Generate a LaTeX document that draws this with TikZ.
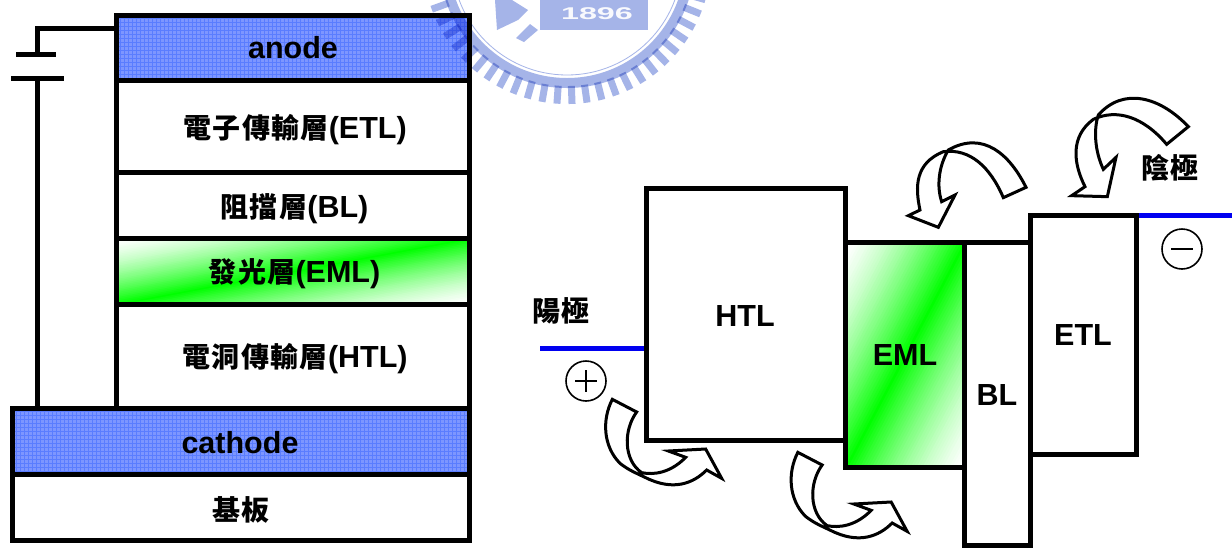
\documentclass[tikz,border=0pt]{standalone}
\usepackage{fontspec}
\setmainfont{Liberation Sans}
\newfontfamily\cjk[LetterSpace=5]{Noto Sans CJK TC}
\definecolor{wm}{RGB}{165,180,232}
\definecolor{anodeblue}{RGB}{125,150,255}
\definecolor{gridblue}{RGB}{90,125,255}
\definecolor{mygreen}{RGB}{0,255,0}
\definecolor{wire}{RGB}{0,0,240}
\newcommand{\lbl}[2]{{\fontsize{28}{30}\selectfont\cjk #1}#2}
\newcommand{\curlarrow}{
  (247,178) .. controls (215,240) and (220,320) .. (270,370)
  .. controls (295,390) and (320,400) .. (345,412)
  .. controls (430,455) and (490,430) .. (530,390)
  -- (575,415) -- (527,327) -- (415,333) -- (467,352)
  .. controls (420,400) and (370,405) .. (335,398)
  .. controls (280,360) and (280,270) .. (320,216) -- cycle}
% diagonal white-green-white fade in the box from (#1,#2), #3 wide, #4 high
\newcommand{\greenfade}[4]{
  \begin{scope}[shift={(#1,#2)},x=#3pt,y=-#4pt]
    \clip (0,0) rectangle (1,1);
    \foreach \i in {0,...,79}{
      \pgfmathsetmacro{\tval}{\i/40}
      \pgfmathsetmacro{\dist}{\i<=40 ? \i/40 : (80-\i)/40}
      \pgfmathtruncatemacro{\pct}{100*\dist^1.4}
      \fill[mygreen!\pct!white] (\tval,0) -- (3,0) -- (3,3) -- (0,3) -- (0,\tval) -- cycle;
    }
  \end{scope}
}
\tikzset{
  x=1pt,y=-1pt,
  every node/.style={font=\fontsize{30.5}{32}\selectfont\bfseries,text=black,inner sep=0pt},
  layer/.style={draw=black,line width=5pt,minimum width=353.5pt,inner sep=0pt},
  cellbox/.style={draw=black,line width=5pt,inner sep=0pt},
  wireline/.style={draw=black,line width=5pt},
  bluewire/.style={draw=wire,line width=5pt},
  curl/.style={draw=black,line width=3pt,fill=white,line join=miter,miter limit=8,scale=1/3},
  polarity/.style={draw=black,line width=1.6pt,circle,minimum size=40pt,fill=white},
  sign/.style={draw=black,line width=1.6pt},
  tag/.style={anchor=center},
  gridline/.style={draw=gridblue,line width=.7pt}
}
\newcommand{\watermark}{
  \begin{scope}
  \clip (0,0) rectangle (1232,547);
  \draw[wm,line width=10pt] (567,-40) circle [radius=123];
  \draw[wm,line width=.8pt] (567,-40) circle [radius=115];
  \foreach \a in {4,10,...,178}{
    \draw[wm,line width=7pt] ($(567,-40)+(\a:126 and 126)$) -- ($(567,-40)+(\a:144 and 144)$);
  }
  \fill[wm] (540,0) rectangle (648,30);
  \fill[wm] (495,0) -- (512,0) -- (528,10) -- (518,20) -- (497,30) -- cycle;
  \fill[wm] (516,38) -- (530,24) -- (538,30) -- (524,42) -- cycle;
  \end{scope}
}
\usetikzlibrary{calc}
\begin{document}
\begin{tikzpicture}
\useasboundingbox (0,0) rectangle (1232,547);
\fill[white] (0,0) rectangle (1232,547);

% left stack
\fill[anodeblue] (116,15) rectangle (470,81);
\foreach \gx in {120,124,...,468} {\draw[gridline] (\gx,15) -- (\gx,81);}
\foreach \gy in {18,22,...,80} {\draw[gridline] (116,\gy) -- (470,\gy);}
\fill[anodeblue] (12,408) rectangle (470,474);
\foreach \gx in {16,20,...,468} {\draw[gridline] (\gx,408) -- (\gx,474);}
\foreach \gy in {411,415,...,473} {\draw[gridline] (12,\gy) -- (470,\gy);}
\greenfade{116}{238}{353.5}{66}
\node[layer,minimum height=65pt] (anode) at (292.75,48) {};
\node[layer,minimum height=92pt] (etl) at (292.75,126.5) {};
\node[layer,minimum height=65.5pt] (bl) at (292.75,205.25) {};
\node[layer,minimum height=66pt] (eml) at (292.75,271) {};
\node[layer,minimum height=104pt] (htl) at (292.75,356) {};
\node[layer,minimum width=457pt,minimum height=66pt] (cathode) at (241,441) {};
\node[layer,minimum width=457pt,minimum height=66pt] (base) at (241,507) {};

\node[tag] (t1) at (293,48) {anode};
\node[tag] (t2) at (295,130) {\lbl{電子傳輸層}{(ETL)}};
\node[tag] (t3) at (294.5,208.5) {\lbl{阻擋層}{(BL)}};
\node[tag] (t4) at (294.5,273.5) {\lbl{發光層}{(EML)}};
\node[tag] (t5) at (295,358.5) {\lbl{電洞傳輸層}{(HTL)}};
\node[tag] (t6) at (240,443) {cathode};
\node[tag] (t7) at (241,510) {\lbl{基板}{}};

% battery
\coordinate (anodeport) at (116,28.5);
\coordinate (corner) at (37.5,28.5);
\coordinate (platea) at (37.5,54);
\coordinate (plateal) at (16,54);
\coordinate (platear) at (56,54);
\coordinate (plateb) at (37.5,78);
\coordinate (platebl) at (11,78);
\coordinate (platebr) at (64,78);
\coordinate (cathodeport) at (37.5,408);
\draw[wireline,line join=miter] (anodeport) -- (corner) -- (platea);
\draw[wireline] (plateal) -- (platear);
\draw[wireline] (platebl) -- (platebr);
\draw[wireline] (plateb) -- (cathodeport);

% right band diagram
\greenfade{845}{242}{119}{225.5}
\node[cellbox,minimum width=119pt,minimum height=225.5pt] (reml) at (904.5,354.75) {};
\node[cellbox,minimum width=66.5pt,minimum height=303pt] (rbl) at (997.25,393.5) {};
\node[cellbox,minimum width=199pt,minimum height=252.5pt] (rhtl) at (745.5,314.25) {};
\node[cellbox,minimum width=105.5pt,minimum height=239pt] (retl) at (1083.25,334.5) {};
\node[tag] at (745,316) {HTL};
\node[tag] at (905,355) {EML};
\node[tag] at (997,395) {BL};
\node[tag] at (1083,335) {ETL};

\coordinate (ll) at (540,348);
\coordinate (rr) at (1232,215);
\draw[bluewire] (ll) -- (ll -| rhtl.west);
\draw[bluewire] (rr -| retl.east) -- (rr);

\node[tag] (yang) at (561,311) {\lbl{陽極}{}};
\node[tag] (yin) at (1170,168) {\lbl{陰極}{}};

\node[polarity] (plus) at (586,381) {};
\draw[sign] ($(plus)+(-11,0)$) -- ($(plus)+(11,0)$);
\draw[sign] ($(plus)+(0,-11)$) -- ($(plus)+(0,11)$);
\node[polarity] (minus) at (1182,249) {};
\draw[sign] ($(minus)+(-11,0)$) -- ($(minus)+(11,0)$);

% curved arrows
\begin{scope}[shift={(530,340)}]
  \draw[curl] \curlarrow;
\end{scope}
\begin{scope}[shift={(715.5,393)}]
  \draw[curl] \curlarrow;
\end{scope}
\begin{scope}[shift={(880,80)}]
  \draw[curl] (925,140) .. controls (840,50) and (730,20) .. (655,105)
    .. controls (640,150) and (645,215) .. (670,268)
    -- (708,232) -- (682,350) -- (575,347) -- (615,320)
    .. controls (580,250) and (570,170) .. (640,118)
    .. controls (710,85) and (790,110) .. (860,193) -- cycle;
  \draw[curl] (438,322) .. controls (390,225) and (310,150) .. (205,210)
    .. controls (175,260) and (170,320) .. (185,365)
    -- (225,345) -- (175,442) -- (85,407) -- (120,390)
    .. controls (105,320) and (105,250) .. (190,215)
    .. controls (270,205) and (330,260) .. (370,353) -- cycle;
\end{scope}

\begin{scope}[blend mode=multiply]
\watermark
\end{scope}
\node[font=\fontsize{17}{17}\selectfont\bfseries,text=white!92!wm,xscale=1.9] (year) at (597,14) {1896};
\end{tikzpicture}
\end{document}
